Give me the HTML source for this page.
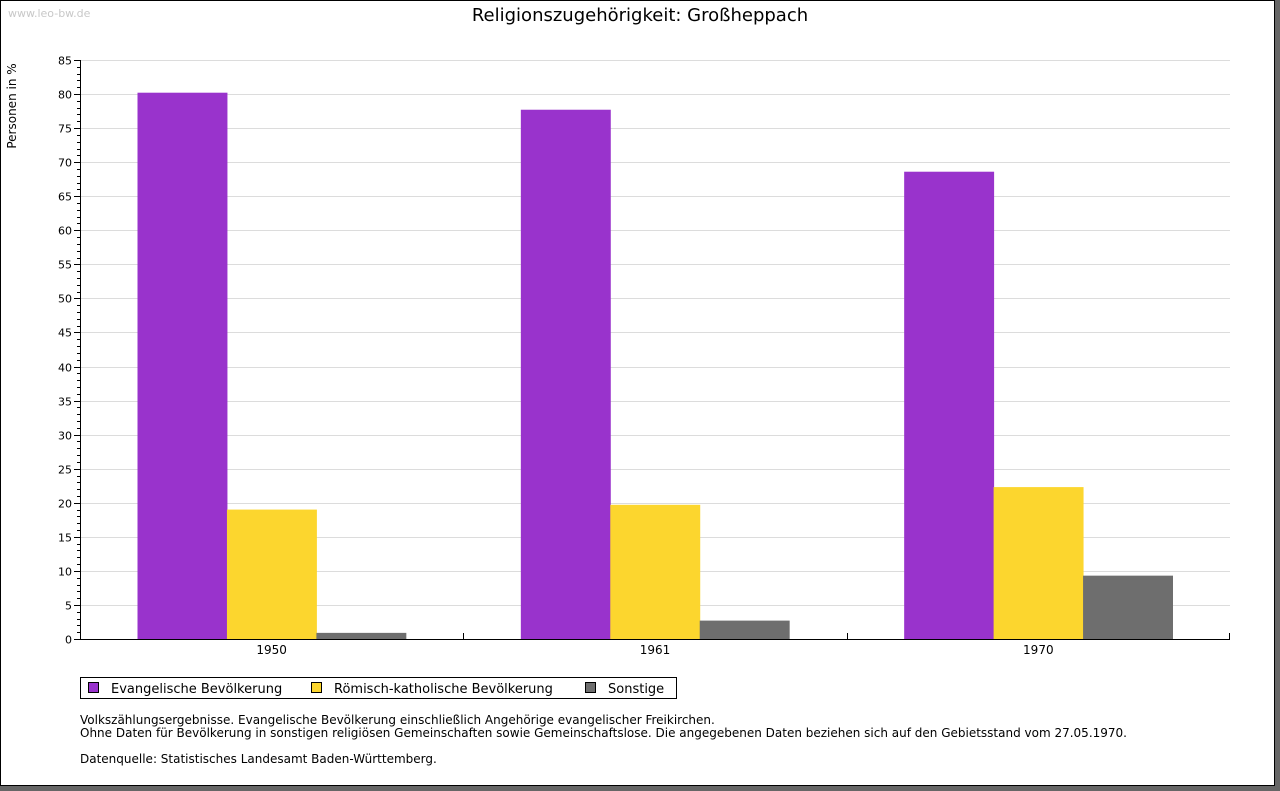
<!DOCTYPE html>
<html><head><meta charset="utf-8">
<style>
body{margin:0;background:#666;width:1280px;height:791px;overflow:hidden;font-family:"DejaVu Sans",sans-serif;}
#frame{position:absolute;left:0;top:0;width:1273px;height:784px;background:#fff;border:1px solid #000;}
svg{position:absolute;left:0;top:0;}
</style></head>
<body>
<div id="frame"></div>
<svg id="chart" width="1280" height="791" font-family="DejaVu Sans, sans-serif">
<text x="8" y="17" font-size="11" fill="#c8c8c8">www.leo-bw.de</text>
<text x="640" y="21" font-size="18" text-anchor="middle" fill="#000">Religionszugehörigkeit: Großheppach</text>
<text transform="translate(16,106) rotate(-90)" font-size="12" text-anchor="middle">Personen in %</text>
<g id="grid"></g><g id="bars"></g><g id="axes"></g>
<g>
<rect x="80.5" y="677.5" width="596" height="21" fill="#fff" stroke="#000"/>
<g><rect x="88.5" y="682.5" width="10" height="10" fill="#9933cc" stroke="#000"/><text x="111" y="693" font-size="13">Evangelische Bevölkerung</text></g>
<g><rect x="311.5" y="682.5" width="10" height="10" fill="#fcd62e" stroke="#000"/><text x="334" y="693" font-size="13">Römisch-katholische Bevölkerung</text></g>
<g><rect x="585.5" y="682.5" width="10" height="10" fill="#6e6e6e" stroke="#000"/><text x="608" y="693" font-size="13">Sonstige</text></g>
</g>
<g font-size="12">
<text x="80" y="724">Volkszählungsergebnisse. Evangelische Bevölkerung einschließlich Angehörige evangelischer Freikirchen.</text>
<text x="80" y="737">Ohne Daten für Bevölkerung in sonstigen religiösen Gemeinschaften sowie Gemeinschaftslose. Die angegebenen Daten beziehen sich auf den Gebietsstand vom 27.05.1970.</text>
<text x="80" y="763">Datenquelle: Statistisches Landesamt Baden-Württemberg.</text>
</g>
</svg>
<script>
const categories=["1950","1961","1970"];
const evangelisch=[80.2,77.7,68.6];
const katholisch=[19.0,19.7,22.3];
const sonstige=[0.9,2.7,9.3];
const yTicks=[0,5,10,15,20,25,30,35,40,45,50,55,60,65,70,75,80,85];
const NS="http://www.w3.org/2000/svg";
const X0=80,X1=1230,Y0=639,Y1=60,YMAX=85;
const y=v=>Y0-(v/YMAX)*(Y0-Y1);
const gw=(X1-X0)/categories.length;
const bw=gw*0.7/3;
function mk(tag,attrs,parent){const e=document.createElementNS(NS,tag);for(const k in attrs)e.setAttribute(k,attrs[k]);parent.appendChild(e);return e;}
const grid=document.getElementById('grid'),bars=document.getElementById('bars'),axes=document.getElementById('axes');
yTicks.forEach(t=>{
  const yy=Math.round(y(t))+0.5;
  if(t>0){const l=mk('line',{x1:X0,x2:X1,y1:yy,y2:yy,stroke:'#dcdcdc'},grid);
  
  }
  const tx=mk('text',{x:X0-8,y:yy+4,'font-size':11,'text-anchor':'end'},axes);tx.textContent=t;
  
  
  mk('line',{x1:X0-6,x2:X0,y1:yy,y2:yy,stroke:'#000'},axes);
});
for(let v=1;v<YMAX;v++){if(v%5){const yy=Math.round(y(v))+0.5;mk('line',{x1:X0-3,x2:X0,y1:yy,y2:yy,stroke:'#000'},axes);}}
const series=[[evangelisch,'#9933cc','evangelisch'],[katholisch,'#fcd62e','katholisch'],[sonstige,'#6e6e6e','sonstige']];
categories.forEach((c,i)=>{
  const gx=X0+i*gw;
  series.forEach((s,j)=>{
    const top=y(s[0][i]);
    const r=mk('rect',{x:gx+gw*0.15+j*bw,y:top,width:bw+0.5,height:Y0-top,fill:s[1]},bars);
    
    
  });
  const t=mk('text',{x:gx+gw/2,y:654,'font-size':12,'text-anchor':'middle'},axes);t.textContent=c;
  
  
  if(i>0)mk('line',{x1:Math.round(gx)+0.5,x2:Math.round(gx)+0.5,y1:Y0,y2:Y0-6,stroke:'#000'},axes);
});
mk('line',{x1:X1-0.5,x2:X1-0.5,y1:Y0,y2:Y0-6,stroke:'#000'},axes);
const ax=mk('line',{x1:X0+0.5,x2:X0+0.5,y1:Y1,y2:Y0+0.5,stroke:'#000'},axes);


const bx=mk('line',{x1:X0,x2:X1,y1:Y0+0.5,y2:Y0+0.5,stroke:'#000'},axes);


</script>
</body></html>
